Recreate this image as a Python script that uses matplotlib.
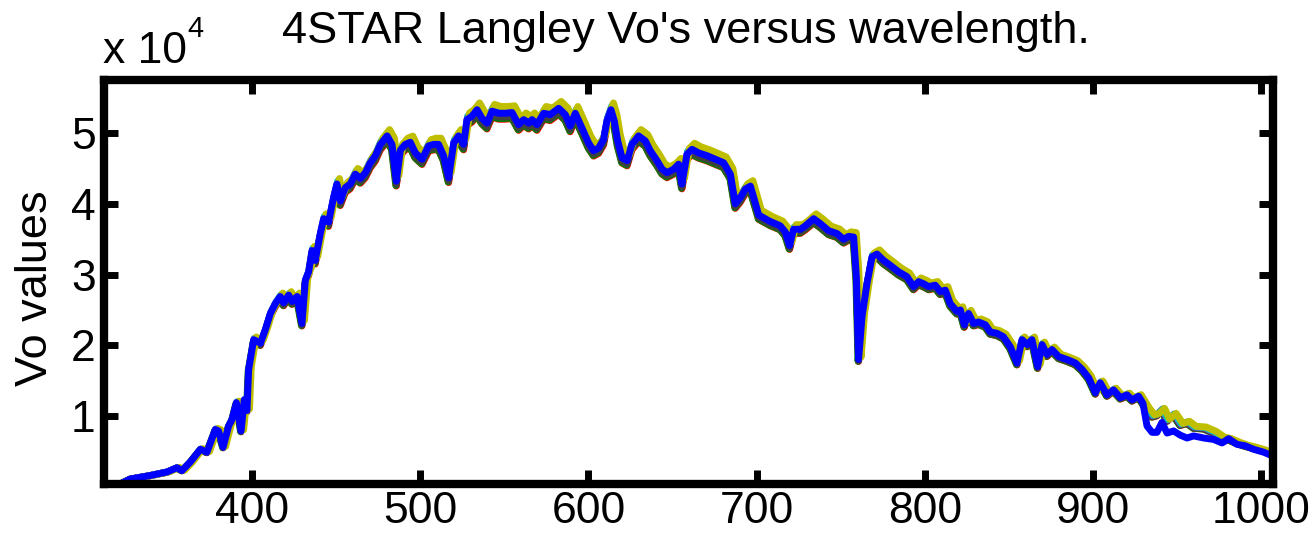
import numpy as np
import matplotlib
matplotlib.use('Agg')
import matplotlib.pyplot as plt
from matplotlib.ticker import FixedLocator, FuncFormatter

plt.rcParams['font.family'] = ['Liberation Sans', 'DejaVu Sans']

# ---- data (Vo in units of 1e4) ----
wavelength = [311.6, 321.7, 327.6, 339.5, 349.5, 355.4, 358.4, 363.3, 369.3, 373.2,
              378.2, 380.1, 382.8, 386.1, 388.1, 390.7, 393.5, 395.4, 397.0, 398.0,
              401.0, 405.0, 407.9, 410.9, 413.9, 416.8, 418.8, 421.8, 423.8, 426.8,
              429.7, 431.7, 433.7, 435.7, 437.6, 440.6, 442.6, 445.5, 448.5, 450.5,
              452.5, 455.5, 458.4, 461.4, 464.4, 467.4, 470.3, 473.3, 476.3, 480.3,
              483.2, 485.8, 488.2, 491.1, 494.1, 497.1, 501.1, 505.0, 508.0, 510.9,
              513.9, 516.9, 519.9, 522.8, 525.8, 527.8, 530.8, 533.8, 536.7, 539.7,
              542.7, 546.6, 550.6, 554.6, 558.5, 561.5, 564.5, 566.5, 569.4, 573.4,
              577.3, 582.3, 586.3, 589.2, 592.2, 596.2, 600.1, 603.1, 606.1, 609.0,
              611.0, 613.4, 615.4, 617.4, 620.0, 623.0, 625.9, 629.8, 633.8, 636.8,
              640.8, 643.8, 646.7, 650.7, 653.6, 655.6, 658.6, 661.6, 665.5, 670.5,
              675.4, 680.4, 684.4, 687.3, 690.3, 693.3, 696.3, 701.3, 708.1, 714.0,
              717.1, 719.6, 722.0, 726.0, 729.0, 733.9, 737.9, 742.8, 747.8, 751.7,
              754.7, 757.7, 759.3, 760.6, 762.7, 765.6, 768.6, 771.6, 775.5, 779.5,
              784.4, 789.4, 793.3, 796.3, 799.3, 802.3, 806.2, 809.2, 812.2, 815.1,
              819.1, 821.1, 823.5, 826.0, 829.0, 832.0, 836.0, 838.9, 842.9, 846.8,
              850.8, 854.8, 857.8, 860.8, 863.7, 867.1, 869.7, 872.6, 875.6, 879.6,
              884.5, 889.5, 893.5, 897.4, 901.4, 904.3, 908.3, 912.2, 916.2, 920.2,
              923.2, 927.1, 929.7]
vo_main = [0.04, 0.04, 0.11, 0.16, 0.21, 0.27, 0.23, 0.35, 0.53, 0.49,
           0.81, 0.79, 0.56, 0.86, 0.95, 1.19, 0.79, 1.23, 1.08, 1.66,
           2.08, 2.03, 2.22, 2.45, 2.59, 2.69, 2.60, 2.71, 2.62, 2.69,
           2.31, 2.92, 3.04, 3.34, 3.20, 3.58, 3.79, 3.74, 4.09, 4.28,
           4.04, 4.23, 4.28, 4.42, 4.36, 4.44, 4.58, 4.68, 4.84, 4.96,
           4.84, 4.32, 4.76, 4.84, 4.87, 4.72, 4.63, 4.82, 4.84, 4.84,
           4.68, 4.37, 4.86, 4.96, 4.84, 5.19, 5.24, 5.33, 5.21, 5.14,
           5.31, 5.28, 5.28, 5.29, 5.12, 5.19, 5.14, 5.19, 5.12, 5.28,
           5.26, 5.35, 5.26, 5.10, 5.28, 5.07, 4.86, 4.75, 4.79, 4.91,
           5.17, 5.33, 5.17, 4.89, 4.65, 4.61, 4.84, 4.96, 4.89, 4.75,
           4.61, 4.49, 4.44, 4.49, 4.56, 4.28, 4.70, 4.77, 4.72, 4.68,
           4.63, 4.58, 4.42, 4.00, 4.09, 4.21, 4.25, 3.84, 3.75, 3.69,
           3.60, 3.41, 3.64, 3.64, 3.69, 3.79, 3.72, 3.62, 3.58, 3.50,
           3.54, 3.53, 2.97, 1.80, 2.41, 2.87, 3.25, 3.29, 3.20, 3.13,
           3.04, 2.97, 2.83, 2.90, 2.87, 2.83, 2.85, 2.76, 2.78, 2.59,
           2.48, 2.50, 2.29, 2.45, 2.31, 2.33, 2.29, 2.19, 2.17, 2.12,
           1.98, 1.75, 2.08, 2.01, 2.08, 1.70, 2.01, 1.87, 1.94, 1.84,
           1.80, 1.75, 1.66, 1.54, 1.33, 1.47, 1.30, 1.37, 1.26, 1.30,
           1.23, 1.28, 1.18]

tail_wavelength = [932.1, 935.1, 938.0, 941.0, 944.0, 947.9, 951.9, 955.9, 959.8,
                   965.8, 971.7, 976.7, 980.6, 985.6, 990.5, 995.5, 1001.4, 1006.4]
vo_tail_blue = [0.86, 0.77, 0.77, 0.91, 0.76, 0.79, 0.73, 0.69, 0.72,
                0.69, 0.67, 0.62, 0.68, 0.60, 0.58, 0.53, 0.49, 0.44]
vo_tail_others = [1.09, 1.00, 1.02, 1.09, 0.94, 1.02, 0.88, 0.91, 0.84,
                  0.83, 0.77, 0.69, 0.67, 0.62, 0.58, 0.55, 0.51, 0.46]

series_names = ['red', 'green', 'gray', 'magenta', 'cyan', 'yellow', 'blue']
series_colors = [(1, 0, 0), (0, 0.5, 0), (0.25, 0.25, 0.25), (0.75, 0, 0.75),
                 (0, 0.75, 0.75), (0.75, 0.75, 0), (0, 0, 1)]
series_scale = [0.984, 0.986, 0.99, 1.006, 1.01, 1.018, 1.0]
series_shift = [0.0, -0.3, 0.0, 0.3, 0.5, 1.5, 0.0]

# ---- figure ----
W, H = 1313, 537
fig = plt.figure(figsize=(W / 100, H / 100), dpi=100)
left, right, top, bottom = 104, 1273, 80, 484
ax = fig.add_axes([left / W, 1 - bottom / H, (right - left) / W, (bottom - top) / H])

for name, col, sc, sh in zip(series_names, series_colors, series_scale, series_shift):
    x = np.array(wavelength + tail_wavelength) + sh
    if name == 'blue':
        y = np.array(vo_main + vo_tail_blue)
    else:
        y = np.array(vo_main + vo_tail_others)
    ax.plot(x, y * 1e4 * sc, color=col, lw=5, solid_joinstyle='round',
            solid_capstyle='round')

ax.set_xlim(312, 1007)
ax.set_ylim(400, 57500)
ax.xaxis.set_major_locator(FixedLocator([400, 500, 600, 700, 800, 900, 1000]))
ax.yaxis.set_major_locator(FixedLocator([1e4, 2e4, 3e4, 4e4, 5e4]))
ax.yaxis.set_major_formatter(FuncFormatter(lambda v, p: '%d' % round(v / 1e4)))
ax.xaxis.set_major_formatter(FuncFormatter(lambda v, p: '%d' % v))

ax.tick_params(direction='in', length=10, width=5, top=True, right=True,
               labelsize=32, color='black')
ax.tick_params(axis='x', pad=5)
ax.tick_params(axis='y', pad=6)
for s in ax.spines.values():
    s.set_linewidth(6)
    s.set_color('black')
    s.set_capstyle('projecting')

fig.text(686 / W, 1 - 43 / H, "4STAR Langley Vo's versus wavelength.",
         ha='center', va='baseline', fontsize=32.5)
fig.text(103 / W, 1 - 63 / H, 'x 10', ha='left', va='baseline', fontsize=32)
fig.text(187 / W, 1 - 37 / H, '4', ha='left', va='baseline', fontsize=21)
fig.text(36 / W, 1 - 288 / H, 'Vo values', rotation=90, ha='center', va='center',
         fontsize=32.5)

fig.savefig('out.png', dpi=100)
